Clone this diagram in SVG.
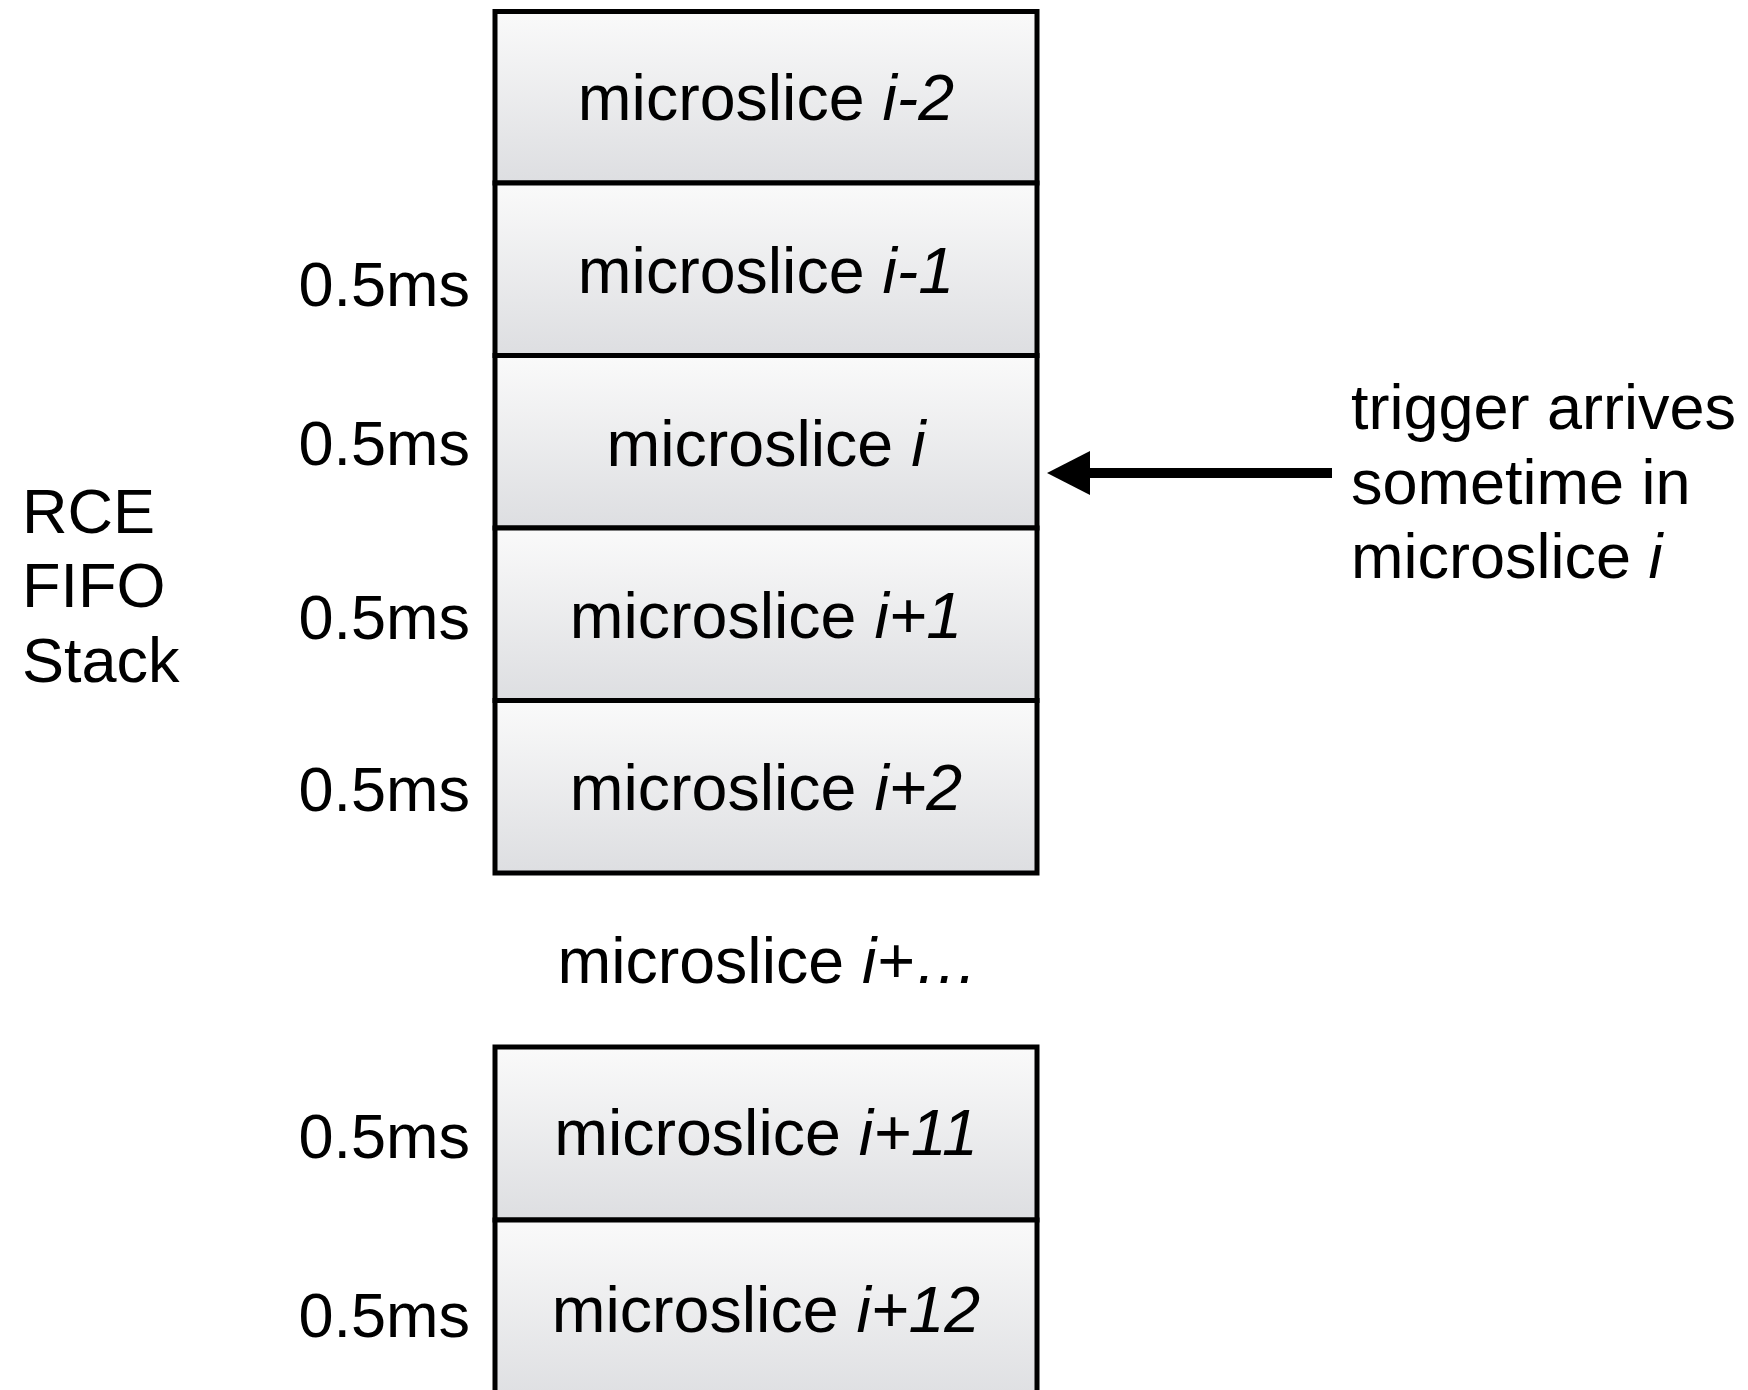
<svg xmlns="http://www.w3.org/2000/svg" width="1748" height="1390" viewBox="0 0 1748 1390">
<defs>
<linearGradient id="g" x1="0" y1="0" x2="0" y2="1">
<stop offset="0" stop-color="#fafafa"/>
<stop offset="1" stop-color="#dddee1"/>
</linearGradient>
<marker id="ah" markerUnits="userSpaceOnUse" markerWidth="44" markerHeight="44" viewBox="0 0 44 44" refX="1" refY="22" orient="auto">
<path d="M0,0 L43,22 L0,44 Z" fill="#000"/>
</marker>
<style>
.box{fill:url(#g);stroke:#000;stroke-width:5}
text{font-family:"Liberation Sans",Arial,sans-serif;font-size:63px;fill:#000}
.c{text-anchor:middle;font-size:64.5px}
.r{text-anchor:end}
.i{font-style:italic}
</style>
</defs>
<rect width="1748" height="1390" fill="#fff"/>
<g id="label-stack">
<text x="22" y="533">RCE</text>
<text x="22" y="607">FIFO</text>
<text x="22" y="682">Stack</text>
</g>
<g id="node-im2"><rect class="box" x="495" y="11.5" width="542" height="171.5"/><text class="c" x="766" y="120">microslice <tspan class="i">i-2</tspan></text></g>
<g id="node-im1"><rect class="box" x="495" y="183" width="542" height="172.5"/><text class="c" x="766" y="293">microslice <tspan class="i">i-1</tspan></text><text class="r" x="470" y="306">0.5ms</text></g>
<g id="node-i"><rect class="box" x="495" y="355.5" width="542" height="172.5"/><text class="c" x="766" y="466">microslice <tspan class="i">i</tspan></text><text class="r" x="470" y="465">0.5ms</text></g>
<g id="node-ip1"><rect class="box" x="495" y="528" width="542" height="172.5"/><text class="c" x="766" y="638">microslice <tspan class="i">i+1</tspan></text><text class="r" x="470" y="639">0.5ms</text></g>
<g id="node-ip2"><rect class="box" x="495" y="700.5" width="542" height="172.5"/><text class="c" x="766" y="810">microslice <tspan class="i">i+2</tspan></text><text class="r" x="470" y="811">0.5ms</text></g>
<g id="label-more"><text class="c" x="768" y="983">microslice <tspan class="i">i+…</tspan></text></g>
<g id="node-ip11"><rect class="box" x="495" y="1047" width="542" height="173"/><text class="c" x="766" y="1155">microslice <tspan class="i">i+11</tspan></text><text class="r" x="470" y="1158">0.5ms</text></g>
<g id="node-ip12"><rect class="box" x="495" y="1220" width="542" height="185"/><text class="c" x="766" y="1332">microslice <tspan class="i">i+12</tspan></text><text class="r" x="470" y="1337">0.5ms</text></g>
<g id="connectors">
<line x1="1332" y1="473" x2="1089" y2="473" stroke="#000" stroke-width="10" marker-end="url(#ah)"/>
</g>
<g id="label-trigger">
<text x="1351" y="429">trigger arrives</text>
<text x="1351" y="504">sometime in</text>
<text x="1351" y="578">microslice <tspan class="i">i</tspan></text>
</g>
</svg>
